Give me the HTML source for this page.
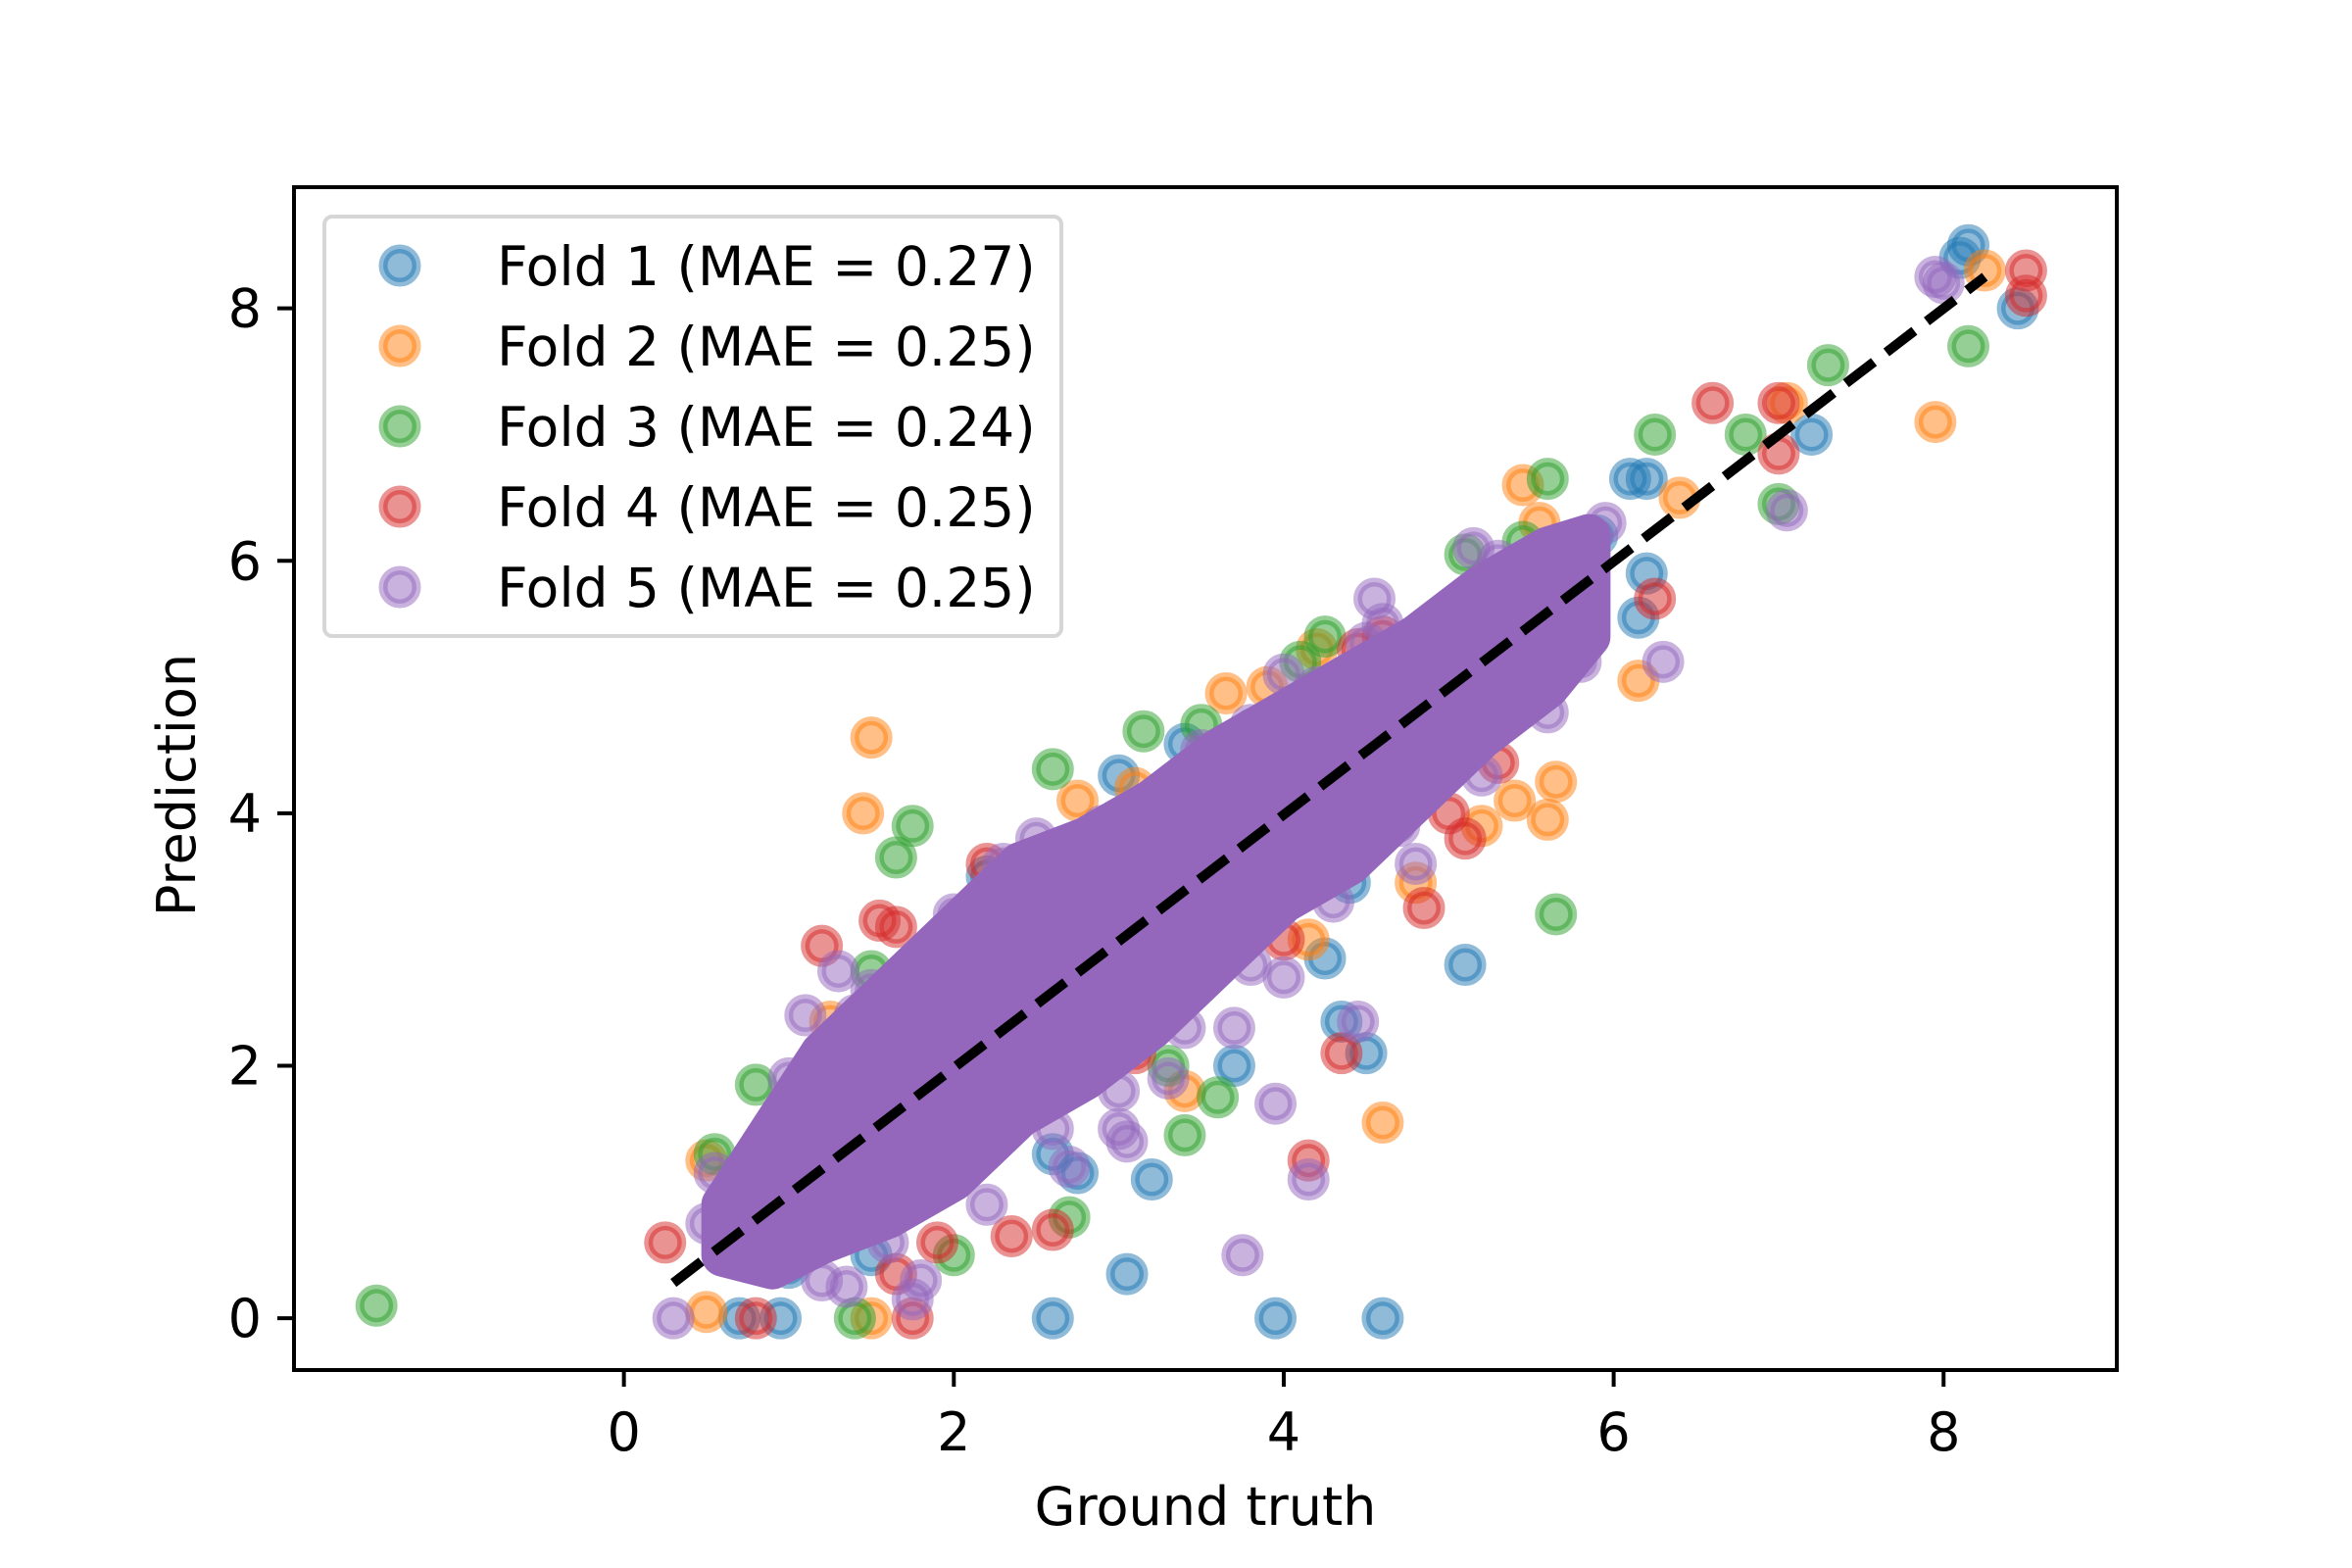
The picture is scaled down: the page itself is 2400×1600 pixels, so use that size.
<!DOCTYPE html>
<html><head><meta charset="utf-8"><style>
html,body{margin:0;padding:0;background:#fff;}
svg{display:block;font-family:"DejaVu Sans","Liberation Sans",sans-serif;}
</style></head><body>
<svg id="chart" width="2400" height="1600" viewBox="0 0 2400 1600" xmlns="http://www.w3.org/2000/svg">
<rect x="0" y="0" width="2400" height="1600" fill="#fff"/>
<g id="plot"></g>
</svg>
<script>
const seriesNames = ["Fold 1 (MAE = 0.27)","Fold 2 (MAE = 0.25)","Fold 3 (MAE = 0.24)","Fold 4 (MAE = 0.25)","Fold 5 (MAE = 0.25)"];
const seriesColors = ["#1f77b4","#ff7f0e","#2ca02c","#d62728","#9467bd"];
const xTicks = [0,2,4,6,8];
const yTicks = [0,2,4,6,8];
const fold1 = [[8.15,8.5],[8.1,8.4],[8.45,8.0],[7.2,7.0],[6.1,6.65],[6.2,6.65],[6.2,5.9],[6.15,5.55],[5.1,2.8],[4.5,2.1],[4.35,2.35],[2.6,0],[3.95,0],[4.6,0],[3.05,0.35],[3.2,1.1],[2.75,1.15],[3.7,2.0],[0.95,0],[0.7,0],[1.5,0.5],[3.0,4.3],[3.4,4.55],[4.25,2.85],[4.4,3.45],[5.9,6.2],[2.6,1.3],[1.0,0.4],[2.2,3.5],[5.0,4.6]];
const fold2 = [[8.25,8.3],[7.95,7.1],[7.05,7.25],[6.4,6.5],[5.45,6.6],[5.55,6.3],[6.15,5.05],[5.65,4.25],[5.6,3.95],[5.4,4.1],[4.6,1.55],[1.5,4.6],[1.45,4.0],[4.8,3.45],[4.15,3.0],[3.65,4.95],[3.9,5.0],[2.75,4.1],[0.5,1.25],[0.5,0.05],[1.5,0],[1.25,2.35],[4.2,5.3],[5.2,3.9],[3.1,4.2],[3.4,1.8]];
const fold3 = [[-1.5,0.1],[8.15,7.7],[7.3,7.55],[6.8,7.0],[6.25,7.0],[7.0,6.45],[5.6,6.65],[5.45,6.15],[5.65,3.2],[4.25,5.4],[4.1,5.2],[3.15,4.65],[2.6,4.35],[1.75,3.9],[1.65,3.65],[0.8,1.85],[0.55,1.3],[3.4,1.45],[3.6,1.75],[2.7,0.8],[2.0,0.5],[1.4,0],[3.5,4.7],[5.1,6.05],[1.5,2.75],[1.0,0.5],[3.3,2.0]];
const fold4 = [[8.5,8.3],[8.5,8.1],[7.0,7.25],[7.0,6.85],[6.6,7.25],[6.25,5.7],[5.1,3.8],[4.85,3.25],[4.35,2.1],[4.15,1.25],[1.65,3.1],[1.55,3.15],[1.2,2.95],[2.2,3.6],[0.25,0.6],[1.75,0],[1.65,0.35],[2.6,0.7],[2.35,0.65],[3.1,2.1],[4.6,5.4],[4.45,5.3],[5.0,4.0],[0.8,0],[1.9,0.6],[5.3,4.4],[4.0,3.0]];
const fold5 = [[7.95,8.25],[8.0,8.2],[7.05,6.4],[6.3,5.2],[5.95,6.3],[5.15,6.1],[4.55,5.7],[3.75,0.5],[3.95,1.7],[4.15,1.1],[4.45,2.35],[0.3,0],[0.5,0.75],[0.55,1.15],[1.35,0.25],[1.75,0.15],[1.3,2.75],[1.1,2.4],[3.05,1.4],[3.7,2.3],[3.0,1.5],[1.0,1.9],[1.4,2.4],[1.9,2.9],[2.3,3.6],[2.5,3.8],[2.9,3.9],[3.4,4.3],[3.5,4.5],[3.8,4.7],[4.2,5.0],[4.6,5.5],[5.0,5.6],[5.3,6.0],[5.7,6.1],[1.2,0.3],[1.6,0.6],[2.2,0.9],[2.6,1.5],[3.0,1.8],[3.4,2.3],[3.8,2.8],[4.3,3.3],[4.7,3.9],[5.2,4.3],[5.6,4.8],[5.8,5.2],[0.7,0.5],[0.9,0.7],[0.6,0.8],[0.8,1.3],[2.7,1.2],[3.3,1.9],[4.0,2.7],[4.8,3.6],[2.0,3.2],[2.6,3.7],[4.0,5.1],[4.5,5.35],[5.5,5.9],[1.8,0.3],[1.5,2.6]];
const bandX = [0.6,0.9,1.2,1.6,2.0,2.4,2.8,3.2,3.6,4.0,4.4,4.8,5.2,5.6,5.85];
const bandLow = [0.5,0.4,0.6,0.8,1.1,1.6,1.9,2.3,2.8,3.3,3.6,4.1,4.6,5.0,5.4];
const bandHigh = [0.9,1.5,2.1,2.6,3.1,3.6,3.8,4.1,4.5,4.8,5.1,5.4,5.8,6.1,6.2];
const refLine = [[0.3,0.28],[8.25,8.25]];

const X0=300,X1=2160,Y0=191,Y1=1398, XMIN=-2.0,XMAX=9.05,YMIN=-0.41,YMAX=8.96;
const sx=v=>X0+(v-XMIN)/(XMAX-XMIN)*(X1-X0);
const sy=v=>Y1-(v-YMIN)/(YMAX-YMIN)*(Y1-Y0);
const NS="http://www.w3.org/2000/svg";
const svg=document.getElementById('chart');
const plot=document.getElementById('plot');
function mk(tag,attrs,parent){const e=document.createElementNS(NS,tag);for(const k in attrs)e.setAttribute(k,attrs[k]);(parent||svg).appendChild(e);return e;}

const clip=mk('clipPath',{id:'clipA'});mk('rect',{x:X0,y:Y0,width:X1-X0,height:Y1-Y0},clip);
plot.setAttribute('clip-path','url(#clipA)');

function marker(x,y,color,parent,name){
  const c=mk('circle',{cx:x,cy:y,r:17,fill:color,'fill-opacity':0.5,stroke:color,'stroke-opacity':0.5,'stroke-width':9},parent);
  
  
  return c;
}
const all=[fold1,fold2,fold3,fold4];
all.forEach((s,i)=>{
  const g=mk('g',{},plot);
  
  
  s.forEach(p=>marker(sx(p[0]),sy(p[1]),seriesColors[i],g,'point-fold-'+(i+1)));
});
let pts=bandX.map((x,i)=>sx(x)+','+sy(bandHigh[i]));
pts=pts.concat(bandX.map((x,i)=>sx(x)+','+sy(bandLow[i])).reverse());
const band=mk('polygon',{points:pts.join(' '),fill:'#9467bd',stroke:'#9467bd','stroke-width':44,'stroke-linejoin':'round'},plot);


const g5=mk('g',{},plot);


fold5.forEach(p=>marker(sx(p[0]),sy(p[1]),seriesColors[4],g5,'point-fold-5'));

const ln=mk('line',{x1:sx(refLine[0][0]),y1:sy(refLine[0][1]),x2:sx(refLine[1][0]),y2:sy(refLine[1][1]),stroke:'#000','stroke-width':10,'stroke-dasharray':'36 16'},plot);



xTicks.forEach(t=>{
  const x=sx(t);
  const tk=mk('line',{x1:x,y1:Y1,x2:x,y2:Y1+17,stroke:'#000','stroke-width':4});
  
  
  const tx=mk('text',{x:x,y:Y1+82,'font-size':54,'text-anchor':'middle',fill:'#000'});
  tx.textContent=t;
  
  
});
yTicks.forEach(t=>{
  const y=sy(t);
  const tk=mk('line',{x1:X0-17,y1:y,x2:X0,y2:y,stroke:'#000','stroke-width':4});
  
  
  const tx=mk('text',{x:X0-33,y:y+19,'font-size':54,'text-anchor':'end',fill:'#000'});
  tx.textContent=t;
  
  
});
const frame=mk('rect',{x:X0,y:Y0,width:X1-X0,height:Y1-Y0,fill:'none',stroke:'#000','stroke-width':4});



const xl=mk('text',{x:(X0+X1)/2,y:1556,'font-size':54,'text-anchor':'middle',fill:'#000'});
xl.textContent='Ground truth';


const yl=mk('text',{x:0,y:0,'font-size':54,'text-anchor':'middle',fill:'#000',transform:'translate(199,801) rotate(-90)'});
yl.textContent='Prediction';



const lg=mk('g',{});


mk('rect',{x:331,y:221,width:752,height:428,rx:8,fill:'#fff','fill-opacity':0.8,stroke:'#d6d6d6','stroke-width':4},lg);
seriesNames.forEach((n,i)=>{
  const y=271+i*82;
  const e=mk('g',{},lg);
  
  
  marker(408,y,seriesColors[i],e,'legend-marker');
  const t=mk('text',{x:507,y:y+20,'font-size':55,fill:'#000'},e);
  t.textContent=n;
  
  
});
</script>
</body></html>
